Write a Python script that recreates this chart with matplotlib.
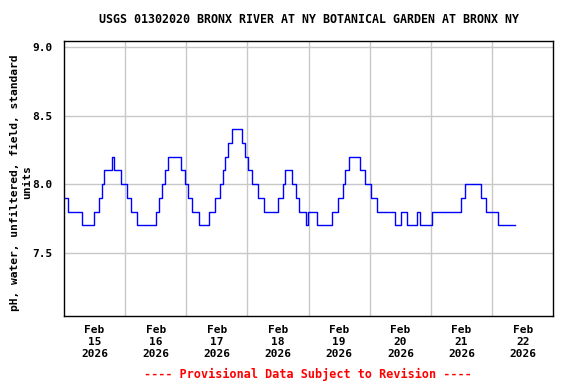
import matplotlib
matplotlib.use("Agg")
import matplotlib.pyplot as plt
import pandas as pd

START = pd.Timestamp("2026-02-15 00:00")

# hours after Feb 15 00:00 where the reading changes, and the new reading
hours = [0.0, 1.7, 6.9, 11.7, 13.7, 14.9, 15.8, 18.7, 19.6, 22.4,
         24.6, 26.2, 28.6, 36.0, 37.4, 38.5, 39.6, 40.8, 46.1, 47.5,
         48.7, 50.3, 53.1, 57.1, 59.4, 61.2, 62.3, 63.2, 64.4, 65.8,
         69.8, 71.2, 72.3, 73.8, 76.2, 78.5, 84.0, 85.8, 86.8, 89.6,
         91.0, 92.1, 95.0, 95.9, 99.4, 105.0, 107.7, 109.3, 110.4, 111.8,
         116.2, 118.1, 120.4, 122.9, 129.9, 132.2, 134.6, 138.6, 139.8, 144.5,
         155.8, 157.5, 163.6, 165.6, 170.2, 177.0]
ph = [7.9, 7.8, 7.7, 7.8, 7.9, 8.0, 8.1, 8.2, 8.1, 8.0,
      7.9, 7.8, 7.7, 7.8, 7.9, 8.0, 8.1, 8.2, 8.1, 8.0,
      7.9, 7.8, 7.7, 7.8, 7.9, 8.0, 8.1, 8.2, 8.3, 8.4,
      8.3, 8.2, 8.1, 8.0, 7.9, 7.8, 7.9, 8.0, 8.1, 8.0,
      7.9, 7.8, 7.7, 7.8, 7.7, 7.8, 7.9, 8.0, 8.1, 8.2,
      8.1, 8.0, 7.9, 7.8, 7.7, 7.8, 7.7, 7.8, 7.7, 7.8,
      7.9, 8.0, 7.9, 7.8, 7.7, 7.7]

days = ["15", "16", "17", "18", "19", "20", "21", "22"]
yticks = [7.5, 8.0, 8.5, 9.0]

title = "USGS 01302020 BRONX RIVER AT NY BOTANICAL GARDEN AT BRONX NY"
ylabel = "pH, water, unfiltered, field, standard\nunits"
footer = "---- Provisional Data Subject to Revision ----"

plt.rcParams["font.family"] = "DejaVu Sans Mono"
plt.rcParams["font.weight"] = "bold"

times = [START + pd.Timedelta(hours=h) for h in hours]

fig = plt.figure(figsize=(5.76, 3.84), dpi=100)
ax = fig.add_axes([0.111, 0.178, 0.8496, 0.715])

ax.plot(times, ph, drawstyle="steps-post", color="#0000ff", lw=1.0)

ax.set_xlim(START, START + pd.Timedelta(days=8))
ax.set_ylim(7.04, 9.045)

# gridlines at midnight, labels at noon
ax.set_xticks([START + pd.Timedelta(days=i) for i in range(1, 8)])
ax.set_xticklabels([])
ax.set_xticks([START + pd.Timedelta(days=i, hours=12) for i in range(8)], minor=True)
ax.set_xticklabels(["Feb\n%s\n2026" % d for d in days], minor=True,
                   fontsize=8, fontweight="bold", linespacing=1.25)
ax.set_yticks(yticks)
ax.set_yticklabels(["%.1f" % v for v in yticks], fontsize=8, fontweight="bold")
ax.tick_params(axis="both", which="both", length=0, pad=7)
ax.tick_params(axis="y", pad=8)

ax.grid(True, which="major", color="#c8c8c8", lw=1.0)
ax.set_axisbelow(True)
for s in ax.spines.values():
    s.set_color("black")
    s.set_linewidth(1.0)

ax.set_title(title, fontsize=8.4, fontweight="bold", pad=13)
ax.set_ylabel(ylabel, fontsize=8.1, fontweight="bold")
ax.yaxis.set_label_coords(-0.066, 0.485)
fig.text(0.535, 0.024, footer, color="red", fontsize=8.5, fontweight="bold",
         ha="center", va="center")

fig.savefig("out.png", dpi=100)
